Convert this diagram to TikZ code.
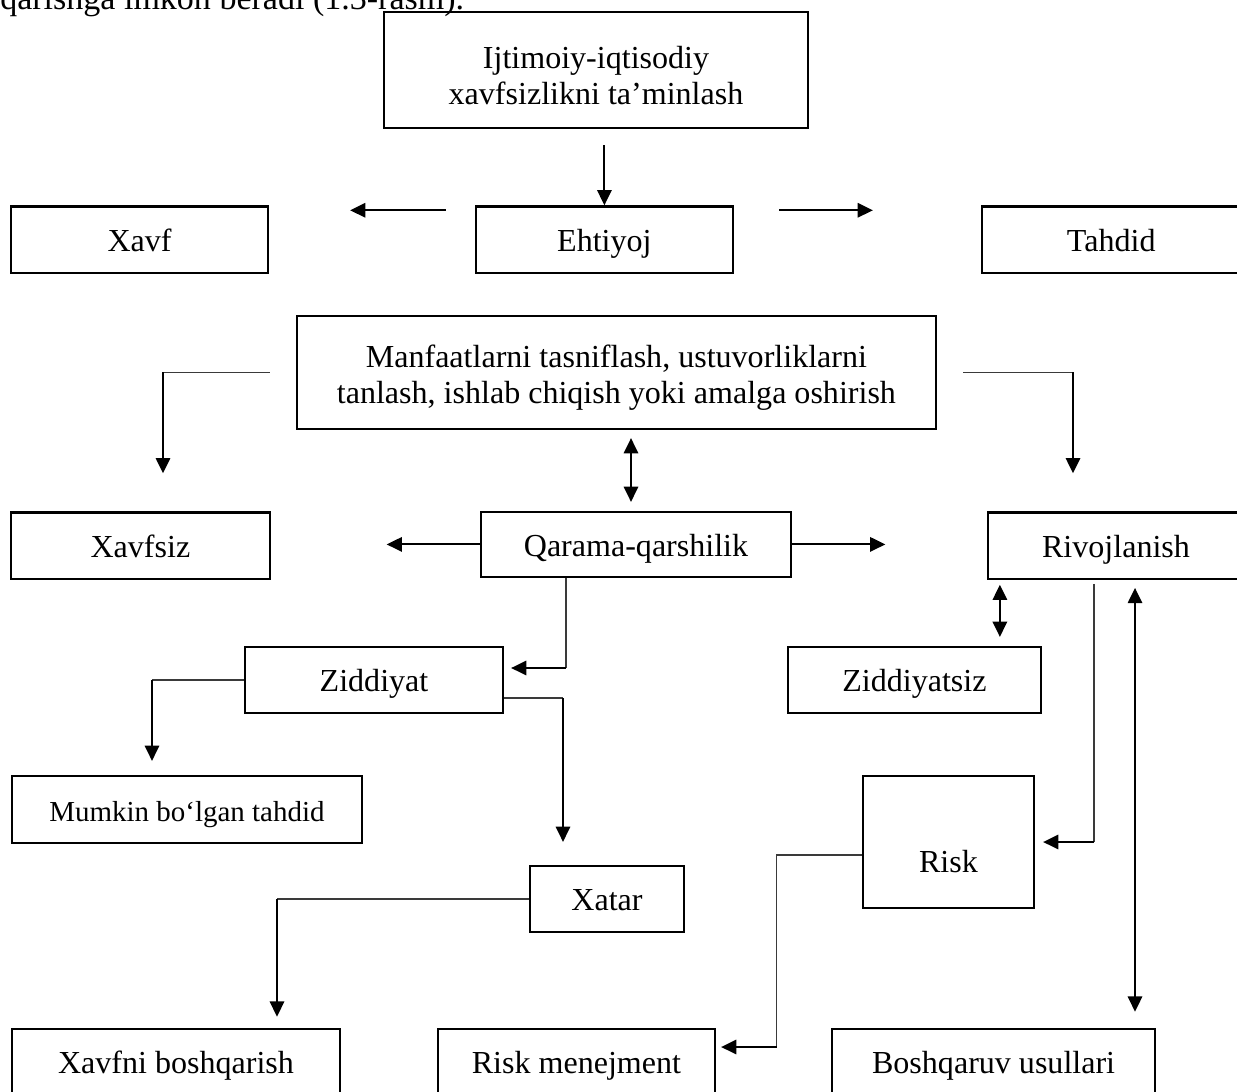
\documentclass[tikz,border=0pt]{standalone}
\usepackage{fontspec}
\setmainfont{Liberation Serif}
\usetikzlibrary{arrows.meta, positioning, calc}
\definecolor{linkgray}{HTML}{3A3A3A}
\newcommand{\diagfont}{\fontsize{22.8}{25.5}\selectfont}
\newcommand{\smalldiagfont}{\fontsize{20.6}{24}\selectfont}
\newcommand{\matnfont}{\fontsize{24.2}{28}\selectfont}
\tikzset{
  tallbox/.style={
    rectangle, draw=black, line width=1.6pt, align=center,
    minimum height=1.66cm, inner sep=0pt, font=\diagfont
  },
  box/.style={tallbox, text height=0.78cm, text depth=0.2cm},
  arrow/.style={-{Triangle[length=0.38cm, width=0.36cm]}, line width=1.3pt},
  dblarrow/.style={{Triangle[length=0.38cm, width=0.36cm]}-{Triangle[length=0.38cm, width=0.36cm]},
    line width=1.3pt},
  link/.style={line width=0.75pt, draw=linkgray}
}

\begin{document}
\begin{tikzpicture}
  \useasboundingbox (0,0) rectangle (30.925,-27.275);
  % Matn (kesilgan)
  \node[anchor=base west, inner sep=0pt, font=\matnfont] (matn) at (0,-0.225)
    {qarishga imkon beradi (1.3-rasm).};
  % Yuqori qism
  \node[tallbox, minimum width=10.6cm, minimum height=2.9cm] (ijt) at (14.9,-1.75)
    {\rule{0pt}{0.82cm}Ijtimoiy-iqtisodiy\\xavfsizlikni ta’minlash};
  \node[box, minimum width=6.43cm] (xavf) at (3.49,-5.99) {Xavf};
  \node[box, minimum width=6.43cm] (ehtiyoj) at (15.11,-5.99) {Ehtiyoj};
  \node[box, minimum width=6.45cm] (tahdid) at (27.78,-5.99) {Tahdid};
  \node[tallbox, minimum width=15.98cm, minimum height=2.83cm] (manfaat) at (15.41,-9.31)
    {\rule{0pt}{0.82cm}Manfaatlarni tasniflash, ustuvorliklarni\\tanlash, ishlab chiqish yoki amalga oshirish};
  % O'rta qism
  \node[box, minimum width=6.48cm] (xavfsiz) at (3.51,-13.64) {Xavfsiz};
  \node[box, minimum width=7.75cm, minimum height=1.63cm] (qarama) at (15.9,-13.61)
    {Qarama-qarshilik};
  \node[box, minimum width=6.4cm] (rivoj) at (27.9,-13.64) {Rivojlanish};
  \node[box, minimum width=6.45cm, minimum height=1.65cm] (ziddiyat) at (9.35,-17.0)
    {Ziddiyat};
  \node[box, minimum width=6.33cm, minimum height=1.65cm] (ziddiyatsiz) at (22.86,-17.0)
    {Ziddiyatsiz};
  \node[box, minimum width=8.75cm, minimum height=1.68cm, font=\smalldiagfont] (mumkin)
    at (4.675,-20.24) {Mumkin bo‘lgan tahdid};
  \node[box, minimum width=4.28cm, text height=2.4cm, text depth=0.9cm] (risk)
    at (23.71,-21.05) {Risk};
  \node[box, minimum width=3.85cm, minimum height=1.65cm] (xatar) at (15.175,-22.475)
    {Xatar};
  % Pastki qism
  \node[box, minimum width=8.2cm] (xavfni) at (4.4,-26.55) {Xavfni boshqarish};
  \node[box, minimum width=6.93cm] (riskmen) at (14.41,-26.55) {Risk menejment};
  \node[box, minimum width=8.08cm] (boshq) at (24.84,-26.55) {Boshqaruv usullari};

  % Ijtimoiy -> Ehtiyoj
  \draw[arrow] ([yshift=1.5cm]ehtiyoj.north) -- (ehtiyoj.north);
  % Ehtiyoj yonidagi strelkalar
  \draw[arrow] ([shift={(-0.72,-0.125)}]ehtiyoj.north west)
    -- ([shift={(2.02,-0.125)}]xavf.north east);
  \draw[arrow] ([shift={(1.125,-0.125)}]ehtiyoj.north east)
    -- ([shift={(-2.705,-0.125)}]tahdid.north west);
  % Manfaat -> Xavfsiz
  \coordinate (mfL) at ([xshift=-0.65cm]manfaat.west);
  \coordinate (xsT) at ([xshift=0.565cm,yshift=0.95cm]xavfsiz.north);
  \draw[link] (mfL) -- (mfL -| xsT);
  \draw[arrow] (mfL -| xsT) -- (xsT);
  % Manfaat -> Rivojlanish
  \coordinate (mfR) at ([xshift=0.65cm]manfaat.east);
  \coordinate (rvT) at ([xshift=-1.075cm,yshift=0.95cm]rivoj.north);
  \draw[link] (mfR) -- (mfR -| rvT);
  \draw[arrow] (mfR -| rvT) -- (rvT);
  % Manfaat <-> Qarama-qarshilik
  \coordinate (mfB) at ([xshift=0.365cm,yshift=-0.2cm]manfaat.south);
  \coordinate (qrT) at ([yshift=0.22cm]qarama.north);
  \draw[dblarrow] (mfB) -- (mfB |- qrT);
  % Qarama-qarshilik -> chap / o'ng
  \draw[arrow] (qarama.west) -- ++(-2.33,0);
  \draw[arrow] (qarama.east) -- ++(2.33,0);
  % Qarama-qarshilik -> Ziddiyat
  \coordinate (qrB) at ([xshift=-1.75cm]qarama.south);
  \coordinate (zdR) at ([xshift=0.175cm,yshift=0.3cm]ziddiyat.east);
  \draw[link] (qrB) -- (qrB |- zdR);
  \draw[arrow] (qrB |- zdR) -- (zdR);
  % Ziddiyat -> Mumkin bo'lgan tahdid
  \coordinate (mmT) at ([xshift=-0.875cm,yshift=0.35cm]mumkin.north);
  \draw[link] (ziddiyat.west) -- (ziddiyat.west -| mmT);
  \draw[arrow] (ziddiyat.west -| mmT) -- (mmT);
  % Ziddiyat -> Xatar
  \coordinate (zdB) at ([yshift=-0.45cm]ziddiyat.east);
  \coordinate (xtT) at ([xshift=-1.1cm,yshift=0.575cm]xatar.north);
  \draw[link] (zdB) -- (zdB -| xtT);
  \draw[arrow] (zdB -| xtT) -- (xtT);
  % Rivojlanish <-> Ziddiyatsiz
  \coordinate (rvS) at ([xshift=0.325cm,yshift=-0.12cm]rivoj.south west);
  \coordinate (zsT) at ([yshift=0.225cm]ziddiyatsiz.north);
  \draw[dblarrow] (rvS) -- (rvS |- zsT);
  % Rivojlanish -> Risk
  \coordinate (rvB) at ([xshift=-0.55cm,yshift=-0.1cm]rivoj.south);
  \coordinate (rkR) at ([xshift=0.2cm]risk.east);
  \draw[link] (rvB) -- (rvB |- rkR);
  \draw[arrow] (rvB |- rkR) -- (rkR);
  % Rivojlanish <-> Boshqaruv usullari
  \coordinate (rvB2) at ([xshift=0.475cm,yshift=-0.2cm]rivoj.south);
  \coordinate (bqT) at ([yshift=0.4cm]boshq.north);
  \draw[dblarrow] (rvB2) -- (rvB2 |- bqT);
  % Risk -> Risk menejment
  \coordinate (rkL) at ([yshift=-0.325cm]risk.west);
  \coordinate (rkC) at ([xshift=-2.12cm]rkL);
  \coordinate (rmR) at ([xshift=0.125cm,yshift=0.375cm]riskmen.east);
  \draw[link] (rkL) -- (rkC) -- (rkC |- rmR);
  \draw[arrow] (rkC |- rmR) -- (rmR);
  % Xatar -> Xavfni boshqarish
  \coordinate (xfT) at ([xshift=2.525cm,yshift=0.275cm]xavfni.north);
  \draw[link] (xatar.west) -- (xatar.west -| xfT);
  \draw[arrow] (xatar.west -| xfT) -- (xfT);
\end{tikzpicture}
\end{document}
